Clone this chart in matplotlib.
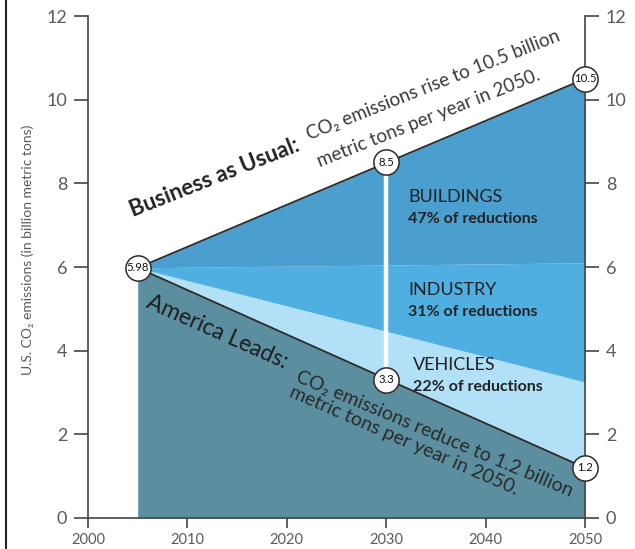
import matplotlib.pyplot as plt
import numpy as np

plt.rcParams['font.family'] = ['Lato', 'DejaVu Sans']

years = [2005, 2050]
business_as_usual = [5.98, 10.5]
buildings_edge = [5.98, 6.1]
industry_edge = [5.98, 3.25]
america_leads = [5.98, 1.2]

marker_years = [2005, 2030, 2030, 2050, 2050]
marker_values = [5.98, 8.5, 3.3, 10.5, 1.2]
marker_labels = ["5.98", "8.5", "3.3", "10.5", "1.2"]

sectors = ["BUILDINGS", "INDUSTRY", "VEHICLES"]
shares = ["47% of reductions", "31% of reductions", "22% of reductions"]

dark = "#2e2a2a"
grey = "#5a5a5a"

fig = plt.figure(figsize=(6.35, 5.49), dpi=100)
ax = fig.add_axes([88 / 635, 1 - 518 / 549, 497 / 635, 502 / 549])

ax.fill_between(years, 0, america_leads, color="#5b8fa0", lw=0)
ax.fill_between(years, america_leads, industry_edge, color="#b2e0f7", lw=0)
ax.fill_between(years, industry_edge, buildings_edge, color="#50afe1", lw=0)
ax.fill_between(years, buildings_edge, business_as_usual, color="#4a9fcf", lw=0)

ax.plot(years, business_as_usual, color=dark, lw=1.3)
ax.plot(years, america_leads, color=dark, lw=1.3)

# white bar at 2030 between the two scenarios
ax.vlines(marker_years[1], marker_values[2], marker_values[1], color="white", lw=3.2, zorder=3)

for x, y, s in zip(marker_years, marker_values, marker_labels):
    ax.scatter(x, y, s=330, facecolor="white", edgecolor=dark, lw=1.1, zorder=4, clip_on=False)
    ax.text(x, y, s, ha="center", va="center", fontsize=8.2, color="#111111", zorder=5)

label_pos = [(2032.2, 7.55), (2032.2, 5.33), (2032.7, 3.54)]
for (x, y), name, share in zip(label_pos, sectors, shares):
    ax.text(x, y, name, fontsize=13, color="#222222", va="baseline")
    ax.text(x, y - 0.5, share, fontsize=11.5, fontweight="bold", color="#222222", va="baseline")

ax.text(2004.5, 7.2, "Business as Usual:", fontsize=16, fontweight="bold", color="#222222",
        rotation=21.6, rotation_mode="anchor", ha="left", va="baseline")
ax.text(2022.3, 9.04, "CO\u2082 emissions rise to 10.5 billion", fontsize=13.5, color="#3a3a3a",
        rotation=21.6, rotation_mode="anchor", ha="left", va="baseline")
ax.text(2023.3, 8.39, "metric tons per year in 2050.", fontsize=13.5, color="#3a3a3a",
        rotation=21.6, rotation_mode="anchor", ha="left", va="baseline")

ax.text(2005.7, 5.04, "America Leads:", fontsize=16.5, color="#1e1e1e",
        rotation=-24, rotation_mode="anchor", ha="left", va="baseline")
ax.text(2020.8, 3.26, "CO\u2082 emissions reduce to 1.2 billion", fontsize=14, color="#2a2a2a",
        rotation=-22.8, rotation_mode="anchor", ha="left", va="baseline")
ax.text(2020.15, 2.90, "metric tons per year in 2050.", fontsize=14, color="#2a2a2a",
        rotation=-23.5, rotation_mode="anchor", ha="left", va="baseline")

ax.set_xlim(2000, 2050)
ax.set_ylim(0, 12)
ax.set_xticks(np.arange(2000, 2051, 10))
ax.set_yticks(np.arange(0, 13, 2))

for side in ["left", "right", "bottom"]:
    ax.spines[side].set_color("#444444")
    ax.spines[side].set_linewidth(1.2)
ax.spines["top"].set_visible(False)

ax.tick_params(axis="y", which="both", left=True, right=True, labelleft=True, labelright=True,
               direction="out", length=10, width=1.2, color="#444444",
               labelsize=13, labelcolor=grey, pad=5)
ax.tick_params(axis="x", direction="out", length=7, width=1.2, color="#444444",
               labelsize=10.5, labelcolor=grey, pad=4)

ax.set_ylabel("U.S. CO\u2082 emissions (in billion metric tons)", fontsize=10, color=grey)
ax.yaxis.set_label_coords(-0.108, 0.535)

# left frame edge
fig.add_artist(plt.Line2D([6 / 635, 6 / 635], [0, 1], color="#222222", lw=1.5))

fig.savefig("out.png", dpi=100)
